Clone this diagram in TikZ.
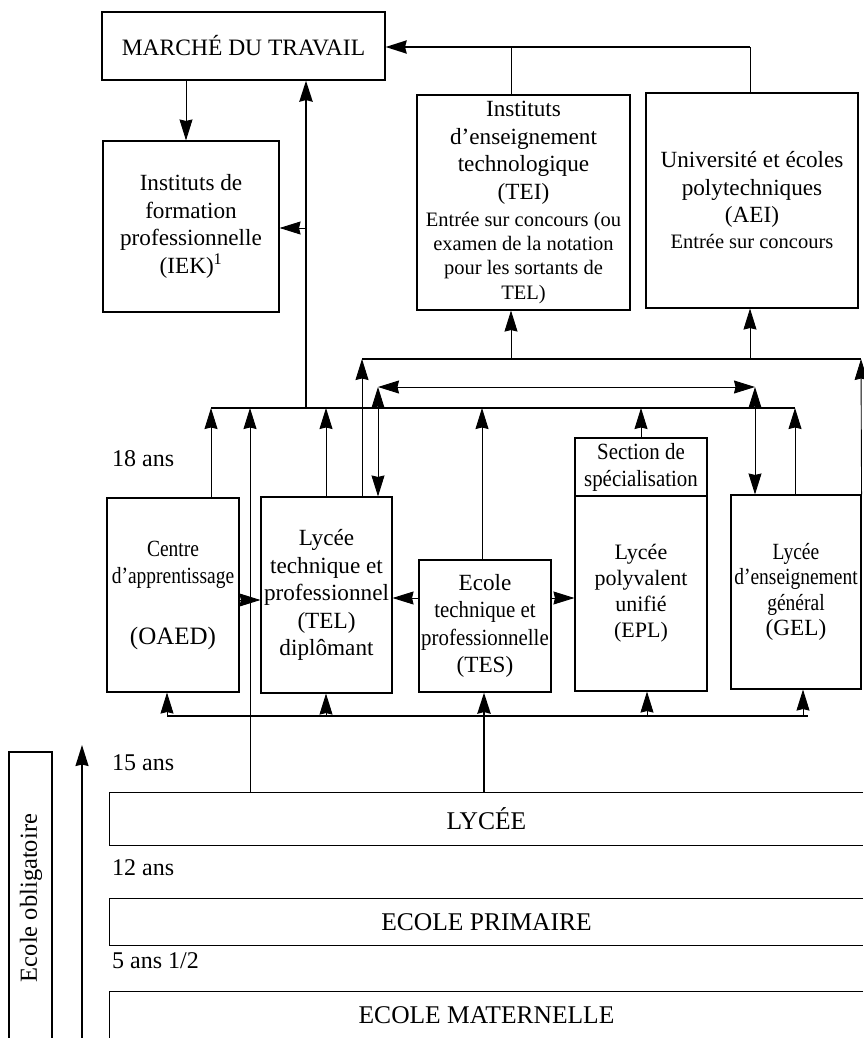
\documentclass[tikz,border=0pt]{standalone}
\usepackage{fontspec}
\setmainfont{Liberation Serif}
\newfontfamily\cond[FakeStretch=0.84]{Liberation Serif}
\newfontfamily\condb[FakeStretch=0.9]{Liberation Serif}
\usetikzlibrary{arrows.meta}
\newcommand{\fss}{\fontsize{20.5}{24}\selectfont}
\newcommand{\fbig}{\fontsize{25}{27.5}\selectfont}
\newcommand{\fepl}{\fontsize{22}{26}\selectfont}
\begin{document}
\begin{tikzpicture}[x=1pt,y=-1pt,
  box/.style={draw,line width=1.1pt,inner sep=0pt,align=center,font=\fontsize{23.2}{27.5}\selectfont},
  band/.style={inner sep=0pt,align=center,font=\fontsize{25.5}{27.5}\selectfont},
  lbl/.style={inner sep=0pt,anchor=base west,font=\fontsize{24}{27.5}\selectfont},
  ln/.style={line width=0.9pt},
  edge/.style={line width=1.1pt},
  bus/.style={line width=2.8pt},
  arr/.style={-{Stealth[length=21pt,width=13pt,inset=1.5pt]}},
  darr/.style={{Stealth[length=21pt,width=13pt,inset=1.5pt]}-{Stealth[length=21pt,width=13pt,inset=1.5pt]}},
]
\useasboundingbox (0,0) rectangle (863,1038);
\fill[white] (0,0) rectangle (863,1038);

% ---------- upper boxes
\node[box,minimum width=283pt,minimum height=68pt,font=\fontsize{23.5}{27.5}\selectfont] (march) at (243.5,46) {MARCHÉ DU TRAVAIL};
\node[box,minimum width=176pt,minimum height=171pt] (iek) at (191,226.5)
  {Instituts de\\formation\\professionnelle\\(IEK)\textsuperscript{1}};
\node[box,minimum width=213pt,minimum height=215pt] (tei) at (523.5,202.5)
  {Instituts\\d’enseignement\\technologique\\(TEI)\\{\fss Entrée sur concours (ou}\\[-3.3pt]{\fss examen de la notation}\\[-3.3pt]{\fss pour les sortants de}\\[-3pt]{\fss TEL)}};
\node[box,minimum width=212pt,minimum height=215pt] (aei) at (752,200.5)
  {Université et écoles\\polytechniques\\(AEI)\\[-1.5pt]{\fss Entrée sur concours}};

% ---------- middle boxes
\node[box,minimum width=132pt,minimum height=194pt] (centre) at (173,595)
  {{\cond Centre}\\{\cond d’apprentissage}\\[33pt]{\fbig (OAED)}};
\node[box,minimum width=131pt,minimum height=196pt] (tel) at (326.5,595)
  {Lycée\\technique et\\professionnel\\(TEL)\\diplômant};
\node[box,minimum width=132pt,minimum height=132pt] (tes) at (485,626)
  {Ecole\\{\condb technique et}\\{\condb professionnelle}\\(TES)};
\node[box,minimum width=132pt,minimum height=58pt] (sec) at (641,467)
  {{\condb Section de}\\[-0.5pt]{\condb spécialisation}};
\node[box,minimum width=132pt,minimum height=195pt,font=\fepl] (epl) at (641,593.5)
  {Lycée\\polyvalent\\unifié\\(EPL)};
\node[box,minimum width=130pt,minimum height=194pt] (gel) at (796,592)
  {{\cond Lycée}\\[-2pt]{\cond d’enseignement}\\[-2pt]{\cond général}\\[-2pt](GEL)};

% ---------- bands
\node[band,minimum width=753pt,minimum height=52pt] (lycee) at (486.5,819) {LYCÉE};
\node[band,minimum width=753pt,minimum height=46pt] (prim) at (486.5,922) {ECOLE PRIMAIRE};
\node[band,minimum width=753pt,minimum height=46pt] (mat) at (486.5,1015) {ECOLE MATERNELLE};
\draw[edge] (lycee.north east) -- (lycee.north west) -- (lycee.south west) -- (lycee.south east);
\draw[edge] (prim.north east) -- (prim.north west) -- (prim.south west) -- (prim.south east);
\draw[edge] (mat.north east) -- (mat.north west) -- (mat.south west);

% ---------- age labels
\node[lbl] (a18) at (112,466) {18 ans};
\node[lbl] (a15) at (112,770) {15 ans};
\node[lbl] (a12) at (112,875) {12 ans};
\node[lbl] (a5) at (112,968) {5 ans 1/2};

% ---------- compulsory school
\draw[edge] (9,1040) -- (9,752) -- (52,752) -- (52,1040);
\node[inner sep=0pt,rotate=90,font=\fontsize{24.5}{27.5}\selectfont] (obl) at (31,898) {Ecole obligatoire};
\coordinate (agebot) at (82,1040);
\coordinate (agetop) at (82,745);
\draw[line width=1.5pt,arr] (agebot) -- (agetop);

% ---------- top connectors
\coordinate (t1) at (511,47);
\coordinate (t2) at (750,47);
\draw[ln] (tei.north -| t1) -- (t1);
\draw[ln] (aei.north -| t2) -- (t2);
\draw[line width=2.4pt,arr] (t2) -- (march.east |- t2);
\coordinate (xm) at (186,0);
\draw[ln,arr] (march.south -| xm) -- (iek.north -| xm);

% ---------- bus A (y=408)
\coordinate (A1) at (211,408);
\coordinate (A2) at (250,408);
\coordinate (A0) at (306,408);
\coordinate (A3) at (326,408);
\coordinate (A4) at (482,408);
\coordinate (A5) at (641,408);
\coordinate (A6) at (795,408);
\draw[bus] (A1) -- (A6);
\draw[ln,arr] (centre.north -| A1) -- (A1);
\draw[ln,arr] (lycee.north -| A2) -- (A2);
\draw[ln,arr] (tel.north -| A3) -- (A3);
\draw[ln,arr] (tes.north -| A4) -- (A4);
\draw[ln,arr] (sec.north -| A5) -- (A5);
\draw[ln,arr] (gel.north -| A6) -- (A6);
\draw[bus,arr] (A0) -- (march.south -| A0);
\coordinate (J) at (306,228);
\draw[ln,arr] (J) -- (iek.east |- J);

% ---------- bus B (y=387)
\coordinate (B1) at (378,387);
\coordinate (B2) at (755,387);
\draw[ln,darr] (B1) -- (B2);
\draw[ln,darr] (tel.north -| B1) -- (B1);
\draw[ln,darr] (gel.north -| B2) -- (B2);

% ---------- bus C (y=359)
\coordinate (C1) at (362,359);
\coordinate (C2) at (861,359);
\coordinate (C3) at (511,359);
\coordinate (C4) at (750,359);
\draw[bus] (C1) -- (C2);
\draw[ln,arr] (tel.north -| C1) -- (C1);
\draw[ln,arr] (gel.north east) -- (C2);
\draw[ln,arr] (C3) -- (tei.south -| C3);
\draw[ln,arr] (C4) -- (aei.south -| C4);

% ---------- horizontal arrows between boxes
\coordinate (H1) at (0,600);
\coordinate (H2) at (0,598);
\draw[ln,arr] (centre.east |- H1) -- (tel.west |- H1);
\draw[ln,arr] (tes.west |- H2) -- (tel.east |- H2);
\draw[ln,arr] (tes.east |- H2) -- (epl.west |- H2);

% ---------- bus D (y=716)
\coordinate (D1) at (167,716);
\coordinate (D2) at (326,716);
\coordinate (D3) at (484,716);
\coordinate (D4) at (647,716);
\coordinate (D5) at (803,716);
\coordinate (D0) at (808,716);
\draw[bus] (D1) -- (D0);
\draw[ln,arr] (D1) -- (centre.south -| D1);
\draw[ln,arr] (D2) -- (tel.south -| D2);
\draw[bus,arr] (lycee.north -| D3) -- (tes.south -| D3);
\draw[ln,arr] (D4) -- (epl.south -| D4);
\draw[ln,arr] (D5) -- (gel.south -| D5);
\end{tikzpicture}
\end{document}
